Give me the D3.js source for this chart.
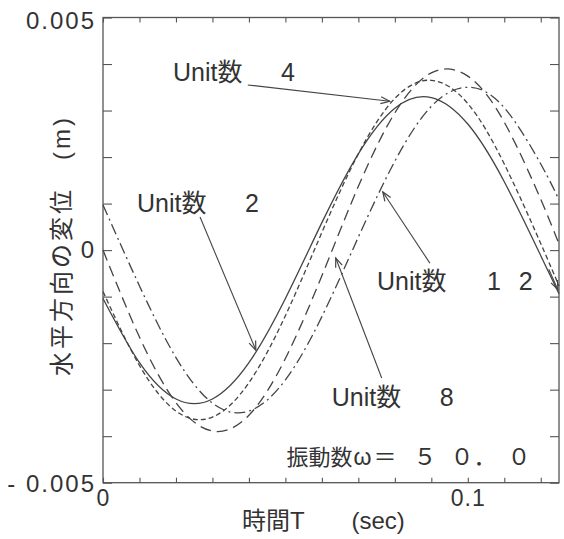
<!DOCTYPE html>
<html>
<head>
<meta charset="utf-8">
<script src="https://cdn.jsdelivr.net/npm/d3@7"></script>
<style>
  body { margin: 0; background: #fff; }
  svg text { fill: #333; font-family: "Liberation Sans", "Noto Sans CJK JP", sans-serif; }
</style>
</head>
<body>
<div id="chart"></div>
<script>
// time (sec) and horizontal displacement (m)
const time   = [0, 0.01, 0.02, 0.03, 0.04, 0.05, 0.06, 0.07, 0.08, 0.09, 0.10, 0.11, 0.12, 0.125];
const unit2  = [-0.00104, -0.00242, -0.00320, -0.00320, -0.00242, -0.00104, 0.00059, 0.00207, 0.00305, 0.00328, 0.00271, 0.00147, -0.00012, -0.00094];
const unit4  = [-0.00089, -0.00248, -0.00346, -0.00359, -0.00285, -0.00141, 0.00038, 0.00207, 0.00326, 0.00365, 0.00315, 0.00185, 0.00014, -0.00077];
const unit8  = [0, -0.00187, -0.00328, -0.00389, -0.00355, -0.00233, -0.00055, 0.00137, 0.00295, 0.00381, 0.00374, 0.00275, 0.00109, 0.00013];
const unit12 = [0.00097, -0.00077, -0.00231, -0.00329, -0.00346, -0.00279, -0.00143, 0.00028, 0.00191, 0.00309, 0.00350, 0.00306, 0.00185, 0.00108];

const xTicks = d3.range(0, 0.1201, 0.01);
const yTicks = d3.range(-0.005, 0.00501, 0.001);
const xLabels = {"0": "0", "0.1": "0.1"};
const yLabels = {"0.005": "0.005", "0": "0", "-0.005": "- 0.005"};

// label text, where it sits (t, v), arrow tail and tip (t, v)
const notes = [
  {name: "Unit数", num: "4",   at: [0.0192, 0.00363],  tail: [0.0397, 0.00355],  tip: [0.0786, 0.0032]},
  {name: "Unit数", num: "2",   at: [0.0093, 0.00082],  tail: [0.0266, 0.00071],  tip: [0.0419, -0.00215]},
  {name: "Unit数", num: "1 2", at: [0.0751, -0.00086], tail: [0.0896, -0.00028], tip: [0.0767, 0.00125]},
  {name: "Unit数", num: "8",   at: [0.0627, -0.00335], tail: [0.0764, -0.00275], tip: [0.0638, -0.00017]}
];
const omegaText = ["振動数", "ω", "＝", "５", "０", "．", "０"];

const width = 564, height = 539;
const margin = {top: 17.5, right: 5, bottom: 56.3, left: 103};

const x = d3.scaleLinear().domain([0, 0.125]).range([margin.left, width - margin.right]);
const y = d3.scaleLinear().domain([-0.005, 0.005]).range([height - margin.bottom, margin.top]);

const svg = d3.select("#chart").append("svg")
    .attr("width", width)
    .attr("height", height);

const key = d => String(+d.toFixed(4));

// axes, ticks pointing inward
svg.append("g")
    .attr("transform", `translate(0,${y(-0.005)})`)
    .call(d3.axisBottom(x).tickValues(xTicks).tickSize(-5).tickPadding(7)
        .tickFormat(d => xLabels[key(d)] || ""))
    .call(g => g.selectAll("text").style("font-size", "23px").style("letter-spacing", "1px"));

svg.append("g")
    .attr("transform", `translate(0,${y(0.005)})`)
    .call(d3.axisTop(x).tickValues(xTicks).tickSize(-5).tickFormat(""));

svg.append("g")
    .attr("transform", `translate(${x(0)},0)`)
    .call(d3.axisLeft(y).tickValues(yTicks).tickSize(-9).tickPadding(7)
        .tickFormat(d => yLabels[key(d)] || ""))
    .call(g => g.selectAll("text").style("font-size", "24px").style("letter-spacing", "2px")
        .attr("dy", d => d > 0.004 ? "0.46em" : d < -0.004 ? "0.38em" : "0.32em"));

svg.append("g")
    .attr("transform", `translate(${x(0.125)},0)`)
    .call(d3.axisRight(y).tickValues(yTicks).tickSize(-9).tickFormat(""));

svg.selectAll(".domain").remove();
svg.selectAll(".tick line").attr("stroke", "#555").attr("stroke-width", 1.1);

svg.append("rect")
    .attr("x", x(0)).attr("y", y(0.005))
    .attr("width", x(0.125) - x(0)).attr("height", y(-0.005) - y(0.005))
    .attr("fill", "none").attr("stroke", "#555").attr("stroke-width", 1.3);

// curves
const line = d3.line()
    .x((d, i) => x(time[i]))
    .y(d => y(d))
    .curve(d3.curveNatural);

const series = [
  {vals: unit2,  dash: null},
  {vals: unit4,  dash: "5,3"},
  {vals: unit8,  dash: "11,6"},
  {vals: unit12, dash: "11,4,2,4"}
];

svg.append("g").selectAll("path")
    .data(series)
    .enter().append("path")
    .attr("d", d => line(d.vals))
    .attr("fill", "none")
    .attr("stroke", "#444")
    .attr("stroke-width", 1.3)
    .attr("stroke-dasharray", d => d.dash);

// arrows
svg.append("defs").append("marker")
    .attr("id", "head")
    .attr("viewBox", "-10 -5 12 10")
    .attr("refX", 0).attr("refY", 0)
    .attr("markerWidth", 12).attr("markerHeight", 10)
    .attr("markerUnits", "userSpaceOnUse")
    .attr("orient", "auto")
    .append("path")
    .attr("d", "M-9,-3.5L0,0L-9,3.5")
    .attr("fill", "none")
    .attr("stroke", "#444")
    .attr("stroke-width", 1.2);

const ann = svg.append("g");

ann.selectAll("line")
    .data(notes)
    .enter().append("line")
    .attr("x1", d => x(d.tail[0])).attr("y1", d => y(d.tail[1]))
    .attr("x2", d => x(d.tip[0])).attr("y2", d => y(d.tip[1]))
    .attr("stroke", "#444")
    .attr("stroke-width", 1.1)
    .attr("marker-end", "url(#head)");

const labels = ann.selectAll("text")
    .data(notes)
    .enter().append("text")
    .attr("x", d => x(d.at[0]))
    .attr("y", d => y(d.at[1]))
    .style("font-size", "25px");

labels.append("tspan").text(d => d.name);
labels.append("tspan")
    .attr("x", d => x(d.at[0]) + (d.num.length > 1 ? 110 : 108))
    .style("word-spacing", "11px")
    .text(d => d.num);

// small mark at the right edge under 1 2
ann.append("line")
    .attr("x1", x(0.1222)).attr("y1", y(-0.00041))
    .attr("x2", x(0.1247)).attr("y2", y(-0.00085))
    .attr("stroke", "#444")
    .attr("stroke-width", 1.1)
    .attr("marker-end", "url(#head)");

const omegaX = [0, 67, 87, 127, 164, 187, 221];
const omega = ann.append("text")
    .attr("y", y(-0.00462))
    .style("font-size", "23px");
omega.selectAll("tspan")
    .data(omegaText)
    .enter().append("tspan")
    .attr("x", (d, i) => x(0.0503) + omegaX[i])
    .style("font-size", (d, i) => i === 0 ? "22px" : null)
    .text(d => d);

// axis titles
svg.append("text")
    .attr("x", x(0.0381))
    .attr("y", height - 10)
    .style("font-size", "24px")
    .text("時間T")
  .append("tspan")
    .attr("x", x(0.0681))
    .text("(sec)");

svg.append("text")
    .attr("transform", `translate(61,${y(0.0001)}) rotate(-90)`)
    .attr("text-anchor", "middle")
    .attr("dominant-baseline", "central")
    .style("font-size", "24px")
    .style("letter-spacing", "3px")
    .text("水平方向の変位　(m)");
</script>
</body>
</html>
